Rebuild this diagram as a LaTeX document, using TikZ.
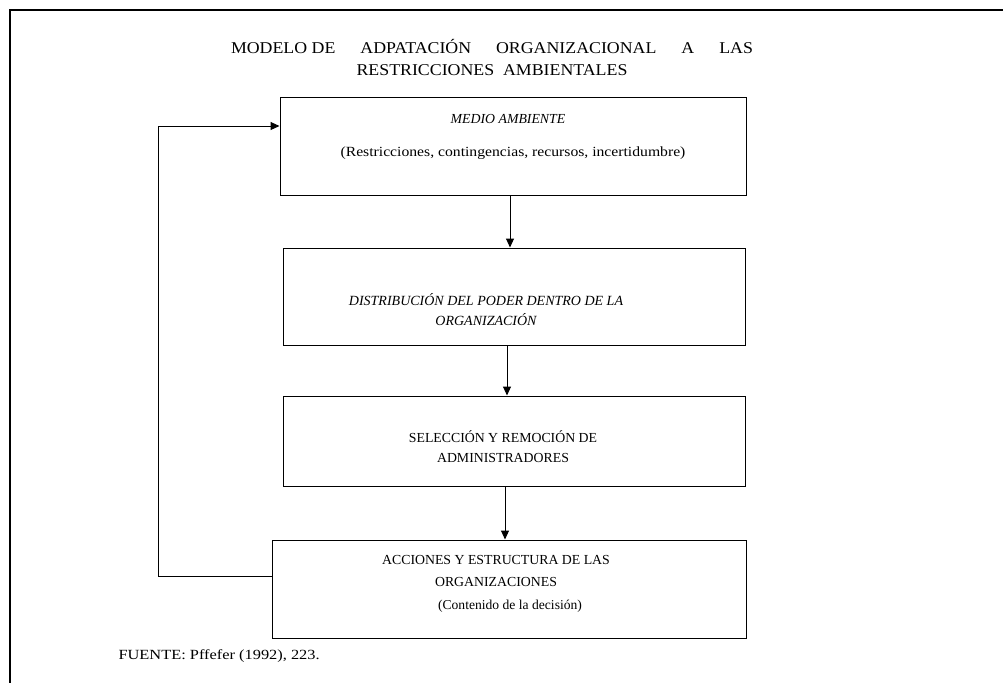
\documentclass[tikz,border=0pt]{standalone}
\usepackage{fontspec}
\setmainfont{Liberation Serif}
\newfontfamily\widefont[FakeStretch=1.12]{Liberation Serif}
\newfontfamily\srcfont[FakeStretch=1.17]{Liberation Serif}
\newfontfamily\headfont[FakeStretch=1.08]{Liberation Serif}
\usetikzlibrary{arrows.meta}
\begin{document}
\begin{tikzpicture}[x=1pt,y=-1pt,
  line width=1pt,
  stagebox/.style={draw, line width=1pt, inner sep=0pt},
  label/.style={font=\fontsize{13.8}{20}\selectfont, align=center, inner sep=0pt},
  flow/.style={-{Triangle[length=9pt,width=8pt]}, line width=1pt},
  ttl/.style={font=\headfont\fontsize{16.5}{24}\selectfont, inner sep=0pt}]
  \useasboundingbox (0,0) rectangle (1003,683);
  % outer frame (top and left rules)
  \draw[line width=1.1pt] (1003,10) -- (10,10) -- (10,683);
  % title, two lines
  \node[ttl] (title1) at (492,46) {\makebox[522pt][s]{MODELO DE\hfill ADPATACIÓN\hfill ORGANIZACIONAL\hfill A\hfill LAS}};
  \node[ttl] (title2) at (492,70) {RESTRICCIONES\ \ AMBIENTALES};

  % stage boxes
  \node[stagebox, minimum width=466pt, minimum height=98pt] (b1) at (513,146) {};
  \node[label, font=\fontsize{13.8}{20}\selectfont\itshape] (t1a) at (508,119) {MEDIO AMBIENTE};
  \node[label, font=\widefont\fontsize{14}{20}\selectfont] (t1b) at (513,153) {(Restricciones, contingencias, recursos, incertidumbre)};

  \node[stagebox, minimum width=462pt, minimum height=97pt] (b2) at (514,296.5) {};
  \node[label, font=\fontsize{14}{20}\selectfont\itshape] (t2) at (486,310) {DISTRIBUCIÓN DEL PODER DENTRO DE LA\\ORGANIZACIÓN};

  \node[stagebox, minimum width=462pt, minimum height=90pt] (b3) at (514,441) {};
  \node[label] (t3) at (503,447) {SELECCIÓN Y REMOCIÓN DE\\ADMINISTRADORES};

  \node[stagebox, minimum width=474pt, minimum height=98pt] (b4) at (509,589) {};
  \node[label, font=\fontsize{13.8}{22}\selectfont] (t4) at (496,571) {ACCIONES Y ESTRUCTURA DE LAS\\ORGANIZACIONES};
  \node[label, font=\fontsize{13.6}{20}\selectfont] (t4b) at (510,606) {(Contenido de la decisión)};

  % flow arrows between stages
  \draw[flow] (b1.south -| 510,0) -- (b2.north -| 510,0);
  \draw[flow] (b2.south -| 507,0) -- (b3.north -| 507,0);
  \draw[flow] (b3.south -| 505,0) -- (b4.north -| 505,0);
  % feedback loop back to the environment
  \coordinate (c1) at (158,576);
  \coordinate (c2) at (158,126);
  \draw[flow] (b4.west |- c1) -- (c1) -- (c2) -- (b1.west |- c2);

  % source
  \node[anchor=west, inner sep=0pt, font=\srcfont\fontsize{14}{16}\selectfont] (src) at (118,656) {FUENTE: Pffefer (1992), 223.};
\end{tikzpicture}
\end{document}
